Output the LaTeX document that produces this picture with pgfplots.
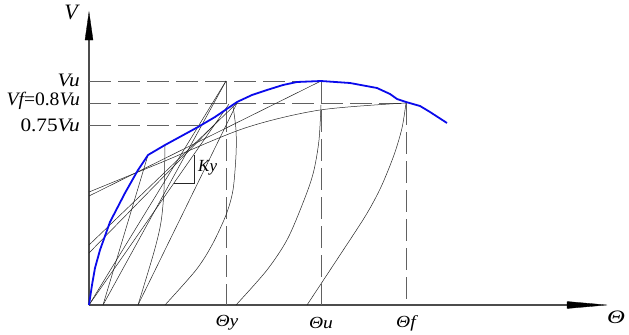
\documentclass[border=0pt]{standalone}
\usepackage{pgfplots}
\pgfplotsset{compat=1.18}
\usepackage{graphicx}
\usepackage{fontspec}
\setmainfont{Liberation Serif}
\definecolor{dashc}{gray}{0.38}
\definecolor{axc}{gray}{0.3}
\definecolor{bl}{RGB}{10,10,235}
\begin{document}
\begin{tikzpicture}
\begin{axis}[width=629pt,height=334pt,scale only axis,
  xmin=0,xmax=629,ymin=0,ymax=334,y dir=reverse,hide axis,clip=false,
  every axis plot/.append style={no marks,solid},
  thin/.style={black!85,line width=0.5pt},
  dl/.style={dashc,line width=0.9pt,dash pattern=on 22pt off 7pt}]
\addplot[draw=none] coordinates {(0,0)(629,334)};
% axes
\addplot[axc,line width=1.1pt] coordinates {(89,305)(570,305)};
\addplot[axc,line width=1.1pt] coordinates {(89,305)(89,38)};
\addplot[fill=black,draw=black,line width=0.3pt] coordinates {(567,301.5)(607,305)(567,308.5)(567,301.5)};
\addplot[fill=black,draw=black,line width=0.3pt] coordinates {(85,40)(89,12)(93,40)(85,40)};
% dashed reference lines
\addplot[dl] coordinates {(89,81)(321,81)};
\addplot[dl] coordinates {(89,103)(406,103)};
\addplot[dl] coordinates {(89,125)(198,125)};
\addplot[dl] coordinates {(226,81)(226,305)};
\addplot[dl] coordinates {(321,81)(321,305)};
\addplot[dl] coordinates {(406,103)(406,305)};
% thin hysteresis lines
\addplot[thin] coordinates {(89,305)(226,81)};
\addplot[thin] coordinates {(103,305)(148,155)};
\addplot[thin,smooth] coordinates {(165,146)(164,190)(161,222)(154,252)(138,305)};
\addplot[thin] coordinates {(89,196)(321,81)};
\addplot[thin,smooth] coordinates {(89,192)(160,163)(245,128)(320,110)(406,103)};
\addplot[thin] coordinates {(89,245)(237,103)};
\addplot[thin] coordinates {(103,305)(226,81)};
\addplot[thin] coordinates {(89,305)(229,104)};
\addplot[thin] coordinates {(89,253)(219,120)};
\addplot[thin] coordinates {(138,305)(237,103)};
\addplot[thin,smooth] coordinates {(233,106)(236,130)(236,155)(233,190)(226,215)(212,245)(196,270)(165,305)};
\addplot[thin,smooth] coordinates {(321,105)(319,140)(314,170)(306,195)(288,238)(267,270)(236,305)};
\addplot[thin,smooth] coordinates {(406,103)(402,128)(394,155)(381,187)(366,215)(340,255)(307,305)};
\addplot[thin] coordinates {(174,183)(194,183)(194,155)};
% envelope curve
\addplot[bl,line width=1.8pt] coordinates {(89,305)(92,285)(95,268)(100,250)(110,222)(125,193)(138,170)(148,155)(165,145)(198,127)(215,117)(237,102)(252,95)(267,90)(283,85)(297,82)(321,81)(350,83)(377,88)(390,94)(397,99)(406,102)(420,106)(430,112)(447,123)};
% labels
\node at (axis cs:71,12) {\fontsize{22}{23}\selectfont\itshape V};
\node[anchor=east,inner sep=0pt] at (axis cs:80,80) {\scalebox{1.12}[1]{\fontsize{19}{20}\selectfont\itshape Vu}};
\node[anchor=east,inner sep=0pt] at (axis cs:80,101) {\scalebox{1.03}[1]{\fontsize{19}{20}\selectfont\itshape Vf\upshape=0.8\itshape Vu}};
\node[anchor=east,inner sep=0pt] at (axis cs:80,125) {\scalebox{1.12}[1]{\fontsize{19}{20}\selectfont 0.75\itshape Vu}};
\node[anchor=west,inner sep=0pt] at (axis cs:198,168) {\fontsize{17}{18}\selectfont\itshape Ky};
\node at (axis cs:227,323) {\scalebox{1.15}[1]{\fontsize{17}{18}\selectfont\itshape Θy}};
\node at (axis cs:321,323) {\scalebox{1.15}[1]{\fontsize{17}{18}\selectfont\itshape Θu}};
\node at (axis cs:406,323) {\scalebox{1.15}[1]{\fontsize{17}{18}\selectfont\itshape Θf}};
\node at (axis cs:616,317) {\scalebox{1.3}[1]{\fontsize{19}{20}\selectfont\itshape Θ}};
\end{axis}
\end{tikzpicture}
\end{document}
